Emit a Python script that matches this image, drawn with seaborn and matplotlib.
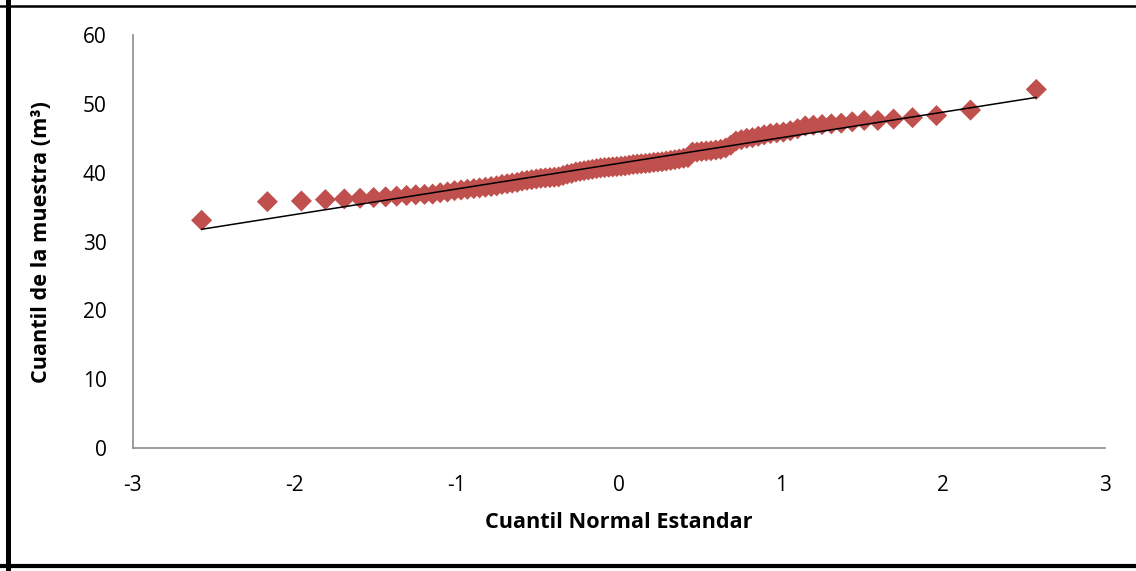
import numpy as np
import pandas as pd
import seaborn as sns
import matplotlib.pyplot as plt
from matplotlib.lines import Line2D

# theoretical normal quantiles (x) and sorted sample values in m3 (y)
normal_quantile = [
    -2.576, -2.170, -1.960, -1.812, -1.695, -1.598, -1.514, -1.440, -1.372, -1.311,
    -1.254, -1.200, -1.150, -1.103, -1.058, -1.015, -0.974, -0.935, -0.896, -0.860,
    -0.824, -0.789, -0.755, -0.722, -0.690, -0.659, -0.628, -0.598, -0.568, -0.539,
    -0.510, -0.482, -0.454, -0.426, -0.399, -0.372, -0.345, -0.319, -0.292, -0.266,
    -0.240, -0.215, -0.189, -0.164, -0.138, -0.113, -0.088, -0.063, -0.038, -0.013,
    0.013, 0.038, 0.063, 0.088, 0.113, 0.138, 0.164, 0.189, 0.215, 0.240,
    0.266, 0.292, 0.319, 0.345, 0.372, 0.399, 0.426, 0.454, 0.482, 0.510,
    0.539, 0.568, 0.598, 0.628, 0.659, 0.690, 0.722, 0.755, 0.789, 0.824,
    0.860, 0.896, 0.935, 0.974, 1.015, 1.058, 1.103, 1.150, 1.200, 1.254,
    1.311, 1.372, 1.440, 1.514, 1.598, 1.695, 1.812, 1.960, 2.170, 2.576,
]
sample_quantile = [
    33.1, 35.8, 35.9, 36.1, 36.2, 36.3, 36.4, 36.5, 36.6, 36.7,
    36.8, 36.85, 36.9, 37.1, 37.2, 37.4, 37.5, 37.6, 37.7, 37.8,
    37.9, 38.0, 38.1, 38.3, 38.4, 38.5, 38.6, 38.8, 38.9, 39.0,
    39.1, 39.2, 39.25, 39.3, 39.35, 39.4, 39.6, 39.8, 39.9, 40.1,
    40.2, 40.3, 40.4, 40.5, 40.6, 40.7, 40.75, 40.8, 40.85, 40.9,
    40.95, 41.0, 41.1, 41.2, 41.25, 41.3, 41.35, 41.4, 41.5, 41.55,
    41.6, 41.7, 41.8, 41.9, 42.0, 42.1, 42.2, 43.0, 43.0, 43.1,
    43.15, 43.2, 43.3, 43.4, 43.6, 44.0, 44.6, 44.8, 45.0, 45.1,
    45.3, 45.5, 45.7, 45.8, 45.9, 46.1, 46.4, 46.8, 46.9, 47.0,
    47.1, 47.2, 47.4, 47.6, 47.6, 47.8, 48.0, 48.3, 49.1, 52.1,
]
x_ticks = [-3, -2, -1, 0, 1, 2, 3]
y_ticks = [0, 10, 20, 30, 40, 50, 60]

df = pd.DataFrame({"z": normal_quantile, "q": sample_quantile})

sns.set_style("white")
plt.rcParams["font.family"] = ["Open Sans", "DejaVu Sans"]
plt.rcParams["axes.unicode_minus"] = False
plt.rcParams["text.color"] = "black"
plt.rcParams["axes.labelcolor"] = "black"

fig = plt.figure(figsize=(11.36, 5.71), dpi=100)
ax = fig.add_axes([0.117, 0.215, 0.8557, 0.7237])

sns.scatterplot(data=df, x="z", y="q", marker="D", s=115, color="#C0504D",
                edgecolor="none", linewidth=0, ax=ax, zorder=2)
# linear trend line over the points
sns.regplot(data=df, x="z", y="q", scatter=False, ci=None, truncate=True,
            line_kws={"color": "black", "linewidth": 1.1, "zorder": 3}, ax=ax)

ax.set_xlim(-3, 3)
ax.set_ylim(0, 60)
ax.set_xticks(x_ticks)
ax.set_yticks(y_ticks)
ax.tick_params(axis="both", length=0, labelsize=15, colors="black")
ax.tick_params(axis="x", pad=19)
ax.tick_params(axis="y", pad=19)

for side in ["top", "right"]:
    ax.spines[side].set_visible(False)
for side in ["left", "bottom"]:
    ax.spines[side].set_color("#8C8C8C")
    ax.spines[side].set_linewidth(1.2)

ax.set_xlabel("Cuantil Normal Estandar", fontsize=15.6, fontweight="bold", labelpad=12)
ax.set_ylabel("Cuantil de la muestra (m³)", fontsize=15.6, fontweight="bold", labelpad=22)

# outer chart frame (left, top, bottom visible)
W, H = 1136, 571
fig.add_artist(Line2D([7.5 / W, 7.5 / W], [0, 1], transform=fig.transFigure,
                      color="black", linewidth=3.6))
fig.add_artist(Line2D([0, 1], [1 - 6 / H, 1 - 6 / H], transform=fig.transFigure,
                      color="black", linewidth=1.8))
fig.add_artist(Line2D([0, 1], [1 - 566 / H, 1 - 566 / H], transform=fig.transFigure,
                      color="black", linewidth=3.0))

fig.savefig("out.png", dpi=100)
